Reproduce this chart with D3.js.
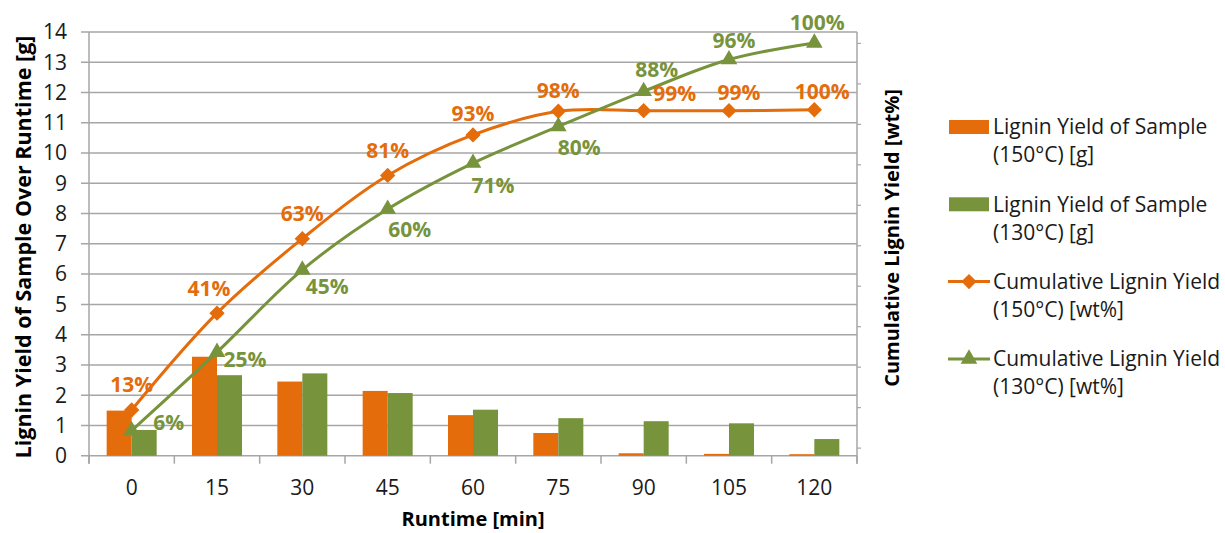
<!DOCTYPE html>
<html>
<head>
<meta charset="utf-8">
<script src="https://cdn.jsdelivr.net/npm/d3@7"></script>
<style>
  body { margin: 0; background: #fff; }
  svg text { font-family: "Open Sans", "Liberation Sans", sans-serif; }
</style>
</head>
<body>
<div id="chart"></div>
<script>
// runtime categories [min]
var runtimes = ["0", "15", "30", "45", "60", "75", "90", "105", "120"];

// lignin yield per sample [g]
var yield150 = [1.49, 3.27, 2.45, 2.14, 1.34, 0.75, 0.08, 0.06, 0.05];
var yield130 = [0.85, 2.66, 2.72, 2.07, 1.52, 1.24, 1.14, 1.07, 0.55];

// cumulative lignin yield [g] (plotted) and its labels [wt%]
var cum150 = [1.51, 4.71, 7.17, 9.26, 10.6, 11.38, 11.4, 11.4, 11.43];
var cum130 = [0.83, 3.42, 6.14, 8.15, 9.67, 10.88, 12.04, 13.09, 13.64];
var pct150 = ["13%", "41%", "63%", "81%", "93%", "98%", "99%", "99%", "100%"];
var pct130 = ["6%", "25%", "45%", "60%", "71%", "80%", "88%", "96%", "100%"];

var yTicks = d3.range(0, 15);

var orange = "#E46C0A";
var green = "#77933C";
var gridCol = "#A6A6A6";

// label nudges (px) relative to the point, like the hand-moved excel labels
var nudge150 = [[0, -25], [-8, -25], [0, -25], [0, -25], [0, -21], [0, -21], [31, -17], [10, -18], [8, -18]];
var nudge130 = [[37, -8], [28, 7], [25, 17], [22, 21], [20, 23], [21, 21], [13, -22], [5, -19], [3, -20]];

var width = 1225, height = 533;
var margin = {left: 89, right: 1225 - 857, top: 32, bottom: 533 - 455.7};

var svg = d3.select("#chart").append("svg")
    .attr("width", width)
    .attr("height", height);

var x = d3.scaleBand()
    .domain(runtimes)
    .range([margin.left, width - margin.right]);

var y = d3.scaleLinear()
    .domain([0, 14])
    .range([height - margin.bottom, margin.top]);

// secondary axis (no labels shown in the original)
var y2 = d3.scaleLinear()
    .domain([-0.2, 10.27])
    .range([height - margin.bottom, margin.top]);

var barW = 25;

// gridlines
svg.append("g")
    .selectAll("line")
    .data(yTicks)
    .enter().append("line")
    .attr("x1", margin.left - 8)
    .attr("x2", width - margin.right)
    .attr("y1", function (d) { return y(d); })
    .attr("y2", function (d) { return y(d); })
    .attr("stroke", gridCol)
    .attr("stroke-width", 1.5);

// left axis line
svg.append("line")
    .attr("x1", margin.left).attr("x2", margin.left)
    .attr("y1", y(14)).attr("y2", y(0) + 8)
    .attr("stroke", gridCol).attr("stroke-width", 1.5);

// right axis
var rightAxis = d3.axisRight(y2)
    .tickValues(d3.range(0, 11))
    .tickSize(4)
    .tickFormat("");
var ra = svg.append("g")
    .attr("transform", "translate(" + (width - margin.right) + ",0)")
    .call(rightAxis);
ra.select(".domain").remove();
ra.selectAll("line").attr("stroke", gridCol).attr("stroke-width", 1.2);
svg.append("line")
    .attr("x1", width - margin.right).attr("x2", width - margin.right)
    .attr("y1", y(14)).attr("y2", y(0) + 8)
    .attr("stroke", gridCol).attr("stroke-width", 1.5);

// x ticks at category boundaries
svg.append("g")
    .selectAll("line")
    .data(runtimes.concat(["end"]))
    .enter().append("line")
    .attr("x1", function (d, i) { return margin.left + i * x.bandwidth(); })
    .attr("x2", function (d, i) { return margin.left + i * x.bandwidth(); })
    .attr("y1", y(0))
    .attr("y2", y(0) + 8)
    .attr("stroke", gridCol)
    .attr("stroke-width", 1.5);

// y tick labels
svg.append("g")
    .selectAll("text")
    .data(yTicks)
    .enter().append("text")
    .attr("x", 67)
    .attr("y", function (d) { return y(d); })
    .attr("dy", "0.35em")
    .attr("text-anchor", "end")
    .attr("font-size", 21)
    .attr("fill", "#1a1a1a")
    .text(function (d) { return d; });

// x tick labels
svg.append("g")
    .selectAll("text")
    .data(runtimes)
    .enter().append("text")
    .attr("x", function (d) { return x(d) + x.bandwidth() / 2; })
    .attr("y", 488)
    .attr("dy", "0.35em")
    .attr("text-anchor", "middle")
    .attr("font-size", 21)
    .attr("fill", "#1a1a1a")
    .text(function (d) { return d; });

// bars
function centre(d) { return x(d) + x.bandwidth() / 2; }

svg.append("g")
    .selectAll("rect")
    .data(yield150)
    .enter().append("rect")
    .attr("x", function (d, i) { return centre(runtimes[i]) - barW; })
    .attr("width", barW)
    .attr("y", function (d) { return y(d); })
    .attr("height", function (d) { return y(0) - y(d); })
    .attr("fill", orange);

svg.append("g")
    .selectAll("rect")
    .data(yield130)
    .enter().append("rect")
    .attr("x", function (d, i) { return centre(runtimes[i]); })
    .attr("width", barW)
    .attr("y", function (d) { return y(d); })
    .attr("height", function (d) { return y(0) - y(d); })
    .attr("fill", green);

// lines
var line = d3.line()
    .x(function (d, i) { return centre(runtimes[i]); })
    .y(function (d) { return y(d); })
    .curve(d3.curveCatmullRom.alpha(0.5));

var diamond = d3.symbol().type(d3.symbolDiamond2).size(150);
var triangle = d3.symbol().type(d3.symbolTriangle).size(120);

function drawSeries(vals, col, sym, labels, nudge) {
    svg.append("path")
        .datum(vals)
        .attr("d", line)
        .attr("fill", "none")
        .attr("stroke", col)
        .attr("stroke-width", 3);
    svg.append("g")
        .selectAll("path")
        .data(vals)
        .enter().append("path")
        .attr("d", sym)
        .attr("transform", function (d, i) {
            return "translate(" + centre(runtimes[i]) + "," + y(d) + ")";
        })
        .attr("fill", col);
    return function () {
        svg.append("g")
            .selectAll("text")
            .data(vals)
            .enter().append("text")
            .attr("x", function (d, i) { return centre(runtimes[i]) + nudge[i][0]; })
            .attr("y", function (d, i) { return y(d) + nudge[i][1]; })
            .attr("dy", "0.35em")
            .attr("text-anchor", "middle")
            .attr("font-size", 21)
            .attr("font-weight", "bold")
            .attr("fill", col)
            .text(function (d, i) { return labels[i]; });
    };
}

var lab150 = drawSeries(cum150, orange, diamond, pct150, nudge150);
var lab130 = drawSeries(cum130, green, triangle, pct130, nudge130);
lab150();
lab130();

// axis titles
svg.append("text")
    .attr("transform", "translate(23,247) rotate(-90)")
    .attr("text-anchor", "middle")
    .attr("dy", "0.35em")
    .attr("font-size", 21.5)
    .attr("font-weight", "bold")
    .text("Lignin Yield of Sample Over Runtime [g]");

svg.append("text")
    .attr("transform", "translate(892,238) rotate(-90)")
    .attr("text-anchor", "middle")
    .attr("dy", "0.35em")
    .attr("font-size", 20)
    .attr("font-weight", "bold")
    .text("Cumulative Lignin Yield [wt%]");

svg.append("text")
    .attr("x", (margin.left + width - margin.right) / 2)
    .attr("y", 526)
    .attr("text-anchor", "middle")
    .attr("font-size", 20)
    .attr("font-weight", "bold")
    .text("Runtime [min]");

// legend
var legendItems = [
    {l1: "Lignin Yield of Sample", l2: "(150\u00b0C) [g]", col: orange, kind: "bar"},
    {l1: "Lignin Yield of Sample", l2: "(130\u00b0C) [g]", col: green, kind: "bar"},
    {l1: "Cumulative Lignin Yield", l2: "(150\u00b0C) [wt%]", col: orange, kind: "diamond"},
    {l1: "Cumulative Lignin Yield", l2: "(130\u00b0C) [wt%]", col: green, kind: "triangle"}
];

var lg = svg.append("g").attr("transform", "translate(949,127)");
var item = lg.selectAll("g")
    .data(legendItems)
    .enter().append("g")
    .attr("transform", function (d, i) { return "translate(0," + (i * 77.3) + ")"; });

item.each(function (d) {
    var g = d3.select(this);
    if (d.kind === "bar") {
        g.append("rect").attr("x", 0).attr("y", -7).attr("width", 40).attr("height", 14).attr("fill", d.col);
    } else {
        g.append("line").attr("x1", -1).attr("x2", 41).attr("y1", 0).attr("y2", 0)
            .attr("stroke", d.col).attr("stroke-width", 3);
        g.append("path")
            .attr("d", d.kind === "diamond" ? diamond : triangle)
            .attr("transform", "translate(20,0)")
            .attr("fill", d.col);
    }
    g.append("text").attr("x", 44).attr("y", 0).attr("dy", "0.35em")
        .attr("font-size", 21).attr("fill", "#1a1a1a").text(d.l1);
    g.append("text").attr("x", 44).attr("y", 28).attr("dy", "0.35em")
        .attr("font-size", 21).attr("fill", "#1a1a1a").text(d.l2);
});
</script>
</body>
</html>
